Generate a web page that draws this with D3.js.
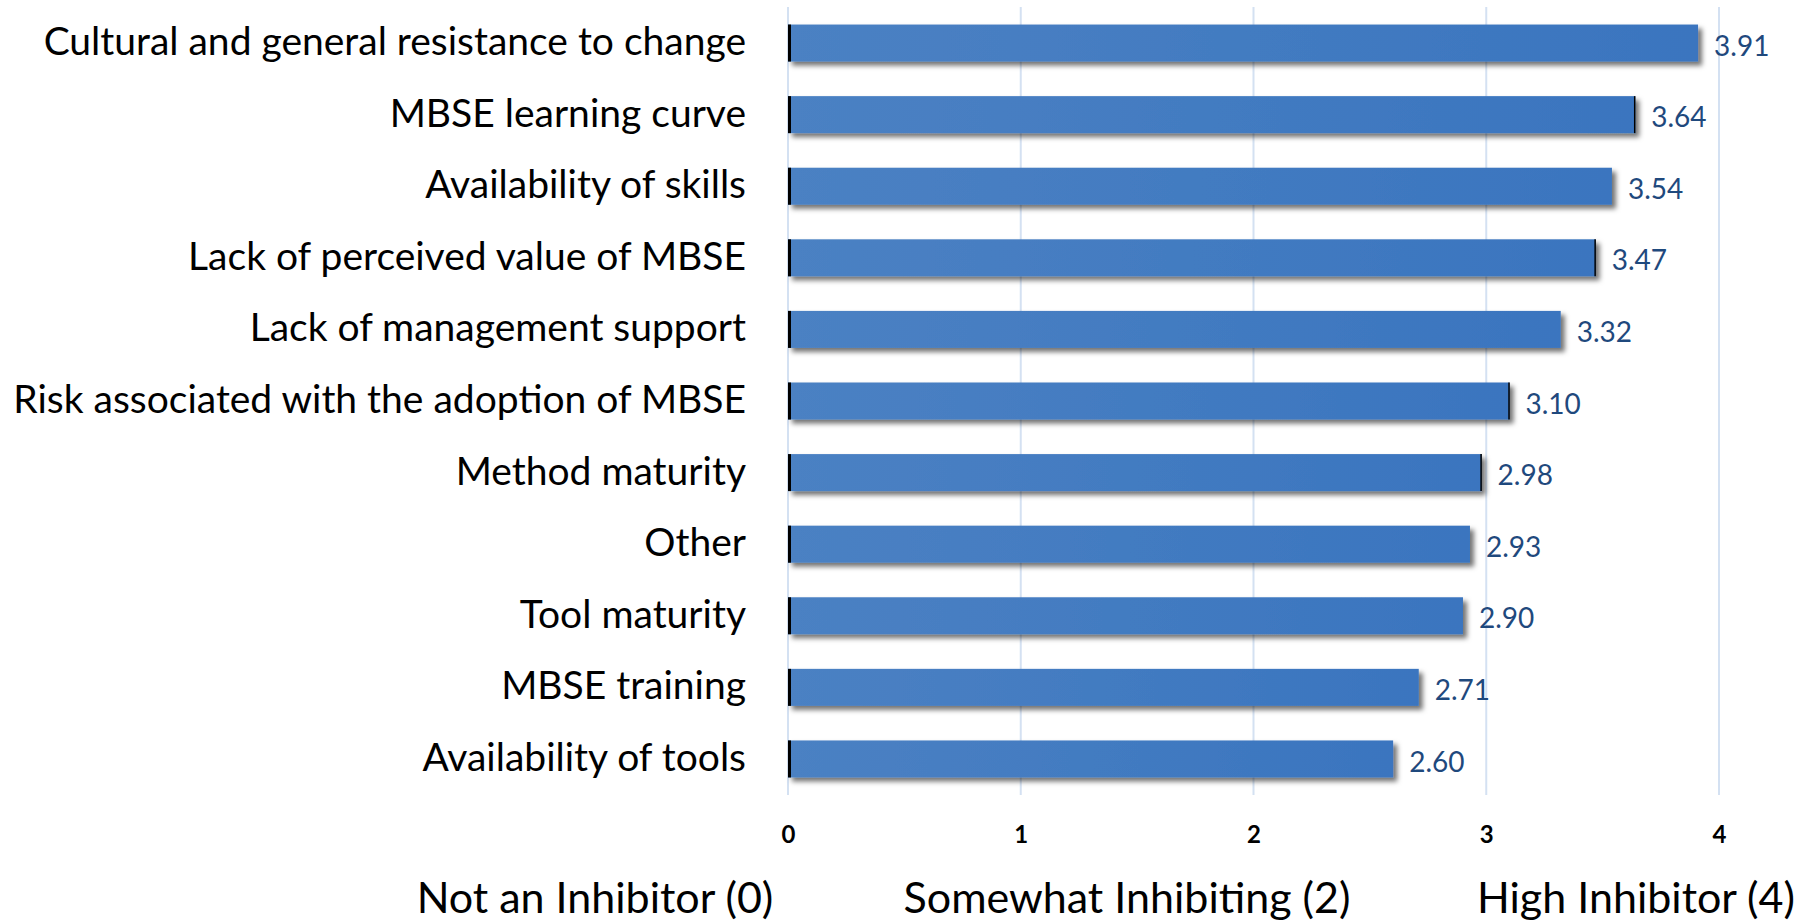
<!DOCTYPE html>
<html>
<head>
<meta charset="utf-8">
<script src="https://cdn.jsdelivr.net/npm/d3@7"></script>
<style>
  body { margin: 0; background: #fff; }
  text { font-family: Lato, "Open Sans", sans-serif; }
</style>
</head>
<body>
<div id="chart"></div>
<script>
const categories = [
  "Cultural and general resistance to change",
  "MBSE learning curve",
  "Availability of skills",
  "Lack of perceived value of MBSE",
  "Lack of management support",
  "Risk associated with the adoption of MBSE",
  "Method maturity",
  "Other",
  "Tool maturity",
  "MBSE training",
  "Availability of tools"
];
const scores = [3.91, 3.64, 3.54, 3.47, 3.32, 3.10, 2.98, 2.93, 2.90, 2.71, 2.60];
// bars that show a thin black end cap in the original
const capped = ["MBSE learning curve", "Lack of perceived value of MBSE", "Risk associated with the adoption of MBSE", "Method maturity"];
const xTicks = [0, 1, 2, 3, 4];
const scaleLabels = ["Not an Inhibitor (0)", "Somewhat Inhibiting (2)", "High Inhibitor (4)"];

const fullWidth = 1806;
const fullHeight = 923;
const plot = { left: 788, right: 1719, top: 7, bottom: 795 };
const scaleLabelX = [595, 1127, 1636];

const svg = d3.select('#chart')
  .append('svg')
  .attr('width', fullWidth)
  .attr('height', fullHeight);

const defs = svg.append('defs');
const grad = defs.append('linearGradient')
  .attr('id', 'barFill')
  .attr('x1', 0).attr('x2', 1).attr('y1', 0).attr('y2', 0);
grad.append('stop').attr('offset', '0%').attr('stop-color', '#4b81c3');
grad.append('stop').attr('offset', '100%').attr('stop-color', '#3a75bf');

const shadow = defs.append('filter')
  .attr('id', 'shadow')
  .attr('x', '-5%').attr('y', '-30%')
  .attr('width', '115%').attr('height', '180%');
shadow.append('feDropShadow')
  .attr('dx', 4).attr('dy', 4)
  .attr('stdDeviation', 2.5)
  .attr('flood-color', '#000')
  .attr('flood-opacity', 0.55);

const xScale = d3.scaleLinear()
  .domain([0, 4])
  .range([plot.left, plot.right]);

const yScale = d3.scaleBand()
  .domain(categories)
  .range([plot.top, plot.bottom])
  .paddingInner(0.483)
  .paddingOuter(0.245);

// grid
svg.append('g')
  .selectAll('line')
  .data(xTicks)
  .join('line')
  .attr('x1', d => xScale(d)).attr('x2', d => xScale(d))
  .attr('y1', plot.top).attr('y2', plot.bottom)
  .attr('stroke', '#d4e1f2')
  .attr('stroke-width', 2);

// x axis tick labels
const xAxis = d3.axisBottom(xScale)
  .tickValues(xTicks)
  .tickFormat(d3.format('d'))
  .tickSize(0)
  .tickPadding(0);

svg.append('g')
  .attr('transform', 'translate(0, 826)')
  .call(xAxis)
  .call(g => g.select('.domain').remove())
  .selectAll('text')
  .attr('font-family', 'Lato, sans-serif')
  .attr('font-size', 24)
  .attr('font-weight', 'bold')
  .attr('fill', '#000');

// bars
const rows = categories.map((c, i) => ({ cat: c, val: scores[i] }));

svg.append('g')
  .selectAll('rect')
  .data(rows)
  .join('rect')
  .attr('x', xScale(0))
  .attr('y', d => yScale(d.cat))
  .attr('width', d => xScale(d.val) - xScale(0))
  .attr('height', yScale.bandwidth())
  .attr('fill', 'url(#barFill)')
  .attr('filter', 'url(#shadow)');

// black edge at the base of each bar
svg.append('g')
  .selectAll('line')
  .data(rows)
  .join('line')
  .attr('x1', xScale(0) + 1.5).attr('x2', xScale(0) + 1.5)
  .attr('y1', d => yScale(d.cat))
  .attr('y2', d => yScale(d.cat) + yScale.bandwidth())
  .attr('stroke', '#000')
  .attr('stroke-width', 3);

svg.append('g')
  .selectAll('line')
  .data(rows.filter(d => capped.includes(d.cat)))
  .join('line')
  .attr('x1', d => xScale(d.val) - 0.5).attr('x2', d => xScale(d.val) - 0.5)
  .attr('y1', d => yScale(d.cat))
  .attr('y2', d => yScale(d.cat) + yScale.bandwidth())
  .attr('stroke', '#000')
  .attr('stroke-width', 1.5);

// value labels
svg.append('g')
  .selectAll('text')
  .data(rows)
  .join('text')
  .attr('x', d => xScale(d.val) + 16)
  .attr('y', d => yScale(d.cat) + yScale.bandwidth() / 2)
  .attr('dy', '0.45em')
  .attr('font-size', 28)
  .attr('fill', '#1f497d')
  .text(d => d.val.toFixed(2));

// category labels
svg.append('g')
  .selectAll('text')
  .data(categories)
  .join('text')
  .attr('x', 746)
  .attr('y', d => yScale(d) + yScale.bandwidth() / 2)
  .attr('dy', '0.31em')
  .attr('text-anchor', 'end')
  .attr('font-size', 39)
  .attr('fill', '#000')
  .text(d => d);

// scale descriptors under the axis
svg.append('g')
  .selectAll('text')
  .data(scaleLabels)
  .join('text')
  .attr('x', (d, i) => scaleLabelX[i])
  .attr('y', 913)
  .attr('text-anchor', 'middle')
  .attr('font-size', 43)
  .attr('fill', '#000')
  .text(d => d);
</script>
</body>
</html>
